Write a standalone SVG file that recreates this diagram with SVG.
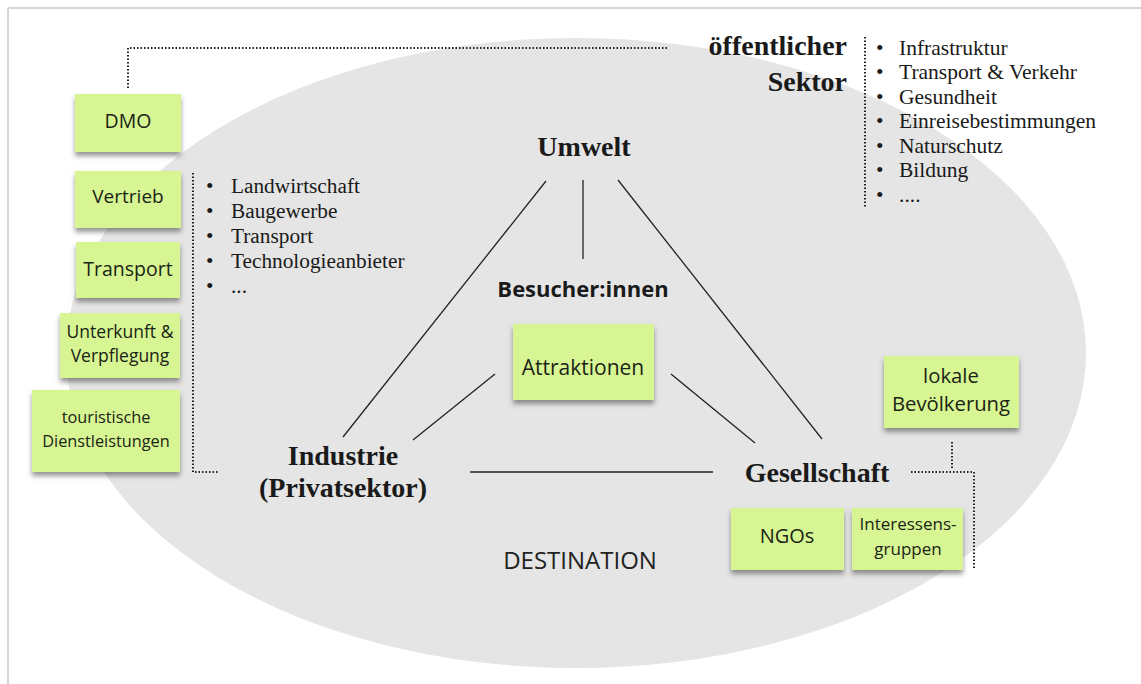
<svg xmlns="http://www.w3.org/2000/svg" width="1141" height="684" viewBox="0 0 1141 684">
<defs>
<filter id="sh" x="-10%" y="-10%" width="120%" height="140%">
<feDropShadow dx="0" dy="4" stdDeviation="2.5" flood-color="#404040" flood-opacity="0.55"/>
</filter>
<style>
.note{fill:#d7f592;filter:url(#sh)}
.nt{font-family:"Open Sans","Noto Sans",sans-serif;fill:#1a2416;text-anchor:middle}
.ser{font-family:"Liberation Serif","Times New Roman",serif;fill:#1a1a1a}
.hd{font-family:"Liberation Serif","Times New Roman",serif;font-weight:bold;font-size:28px;fill:#1a1a1a}
.sol{stroke:#222;stroke-width:1.3;fill:none}
.dot{stroke:#222;stroke-width:2;fill:none;stroke-dasharray:1.5 2}
</style>
</defs>
<rect width="1141" height="684" fill="#ffffff"/>
<line x1="8" y1="8" x2="1141" y2="8" stroke="#d6d6d6" stroke-width="2"/>
<line x1="8" y1="8" x2="8" y2="684" stroke="#d6d6d6" stroke-width="2"/>
<ellipse id="destination" cx="576" cy="353" rx="510" ry="315" fill="#e5e5e5"/>
<g id="connectors">
<path class="dot" d="M128,88 V48 H668"/>
<path class="dot" d="M193,173 V472 H218"/>
<path class="dot" d="M865,37 V207"/>
<path class="dot" d="M911,472 H974 V570"/>
<path class="dot" d="M952,442 V470"/>
<line class="sol" x1="546" y1="181" x2="343" y2="437"/>
<line class="sol" x1="583" y1="180" x2="583" y2="259"/>
<line class="sol" x1="618" y1="180" x2="822" y2="439"/>
<line class="sol" x1="495" y1="374" x2="413" y2="440"/>
<line class="sol" x1="671" y1="374" x2="755" y2="443"/>
<line class="sol" x1="470" y1="472" x2="713" y2="472"/>
</g>
<g id="umwelt"><text class="hd" x="584" y="156" text-anchor="middle">Umwelt</text></g>
<g id="besucher"><text x="583" y="297" text-anchor="middle" font-family="'Open Sans','Noto Sans',sans-serif" font-weight="bold" font-size="22" fill="#1a1a1a">Besucher:innen</text></g>
<g id="industrie"><text class="hd" x="343" y="465" text-anchor="middle">Industrie</text><text class="hd" x="343" y="497" text-anchor="middle">(Privatsektor)</text></g>
<g id="gesellschaft"><text class="hd" x="817" y="482" text-anchor="middle">Gesellschaft</text></g>
<g id="oeffentlich"><text class="hd" x="847" y="55" text-anchor="end">öffentlicher</text><text class="hd" x="847" y="91" text-anchor="end">Sektor</text></g>
<g id="liste-oeffentlich" class="ser" font-size="21.5">
<text x="876" y="54.5">•</text><text x="899" y="54.5">Infrastruktur</text>
<text x="876" y="79">•</text><text x="899" y="79">Transport &amp; Verkehr</text>
<text x="876" y="103.5">•</text><text x="899" y="103.5">Gesundheit</text>
<text x="876" y="128">•</text><text x="899" y="128">Einreisebestimmungen</text>
<text x="876" y="152.5">•</text><text x="899" y="152.5">Naturschutz</text>
<text x="876" y="177">•</text><text x="899" y="177">Bildung</text>
<text x="876" y="202">•</text><text x="899" y="202">....</text>
</g>
<g id="liste-industrie" class="ser" font-size="21.3">
<text x="206" y="193">•</text><text x="231" y="193">Landwirtschaft</text>
<text x="206" y="218">•</text><text x="231" y="218">Baugewerbe</text>
<text x="206" y="243">•</text><text x="231" y="243">Transport</text>
<text x="206" y="268">•</text><text x="231" y="268">Technologieanbieter</text>
<text x="206" y="293">•</text><text x="231" y="293">...</text>
</g>
<g id="dmo"><rect class="note" x="75" y="94" width="106" height="58"/><text class="nt" x="128" y="128" font-size="19.5">DMO</text></g>
<g id="vertrieb"><rect class="note" x="75" y="171" width="106" height="57"/><text class="nt" x="128" y="203" font-size="19">Vertrieb</text></g>
<g id="transport"><rect class="note" x="76" y="242" width="104" height="56"/><text class="nt" x="128" y="276" font-size="19.5">Transport</text></g>
<g id="unterkunft"><rect class="note" x="60" y="313" width="120" height="65"/><text class="nt" x="120" y="338" font-size="17.5">Unterkunft &amp;</text><text class="nt" x="120" y="362" font-size="17.5">Verpflegung</text></g>
<g id="dienstleistungen"><rect class="note" x="32" y="390" width="148" height="82"/><text class="nt" x="106" y="423" font-size="16.3">touristische</text><text class="nt" x="106" y="447" font-size="16.3">Dienstleistungen</text></g>
<g id="attraktionen"><rect class="note" x="513" y="324" width="141" height="76"/><text class="nt" x="583" y="375" font-size="21">Attraktionen</text></g>
<g id="bevoelkerung"><rect class="note" x="884" y="356" width="135" height="72"/><text class="nt" x="951" y="383" font-size="20.3">lokale</text><text class="nt" x="951" y="411" font-size="20.3">Bevölkerung</text></g>
<g id="ngos"><rect class="note" x="731" y="508" width="113" height="62"/><text class="nt" x="787" y="543" font-size="20">NGOs</text></g>
<g id="interessensgruppen"><rect class="note" x="852" y="508" width="111" height="62"/><text class="nt" x="908" y="530" font-size="17">Interessens-</text><text class="nt" x="908" y="555" font-size="17">gruppen</text></g>
<g id="destination-label"><text x="580" y="569" text-anchor="middle" font-family="'Open Sans','Noto Sans',sans-serif" font-size="24" fill="#222">DESTINATION</text></g>
</svg>
